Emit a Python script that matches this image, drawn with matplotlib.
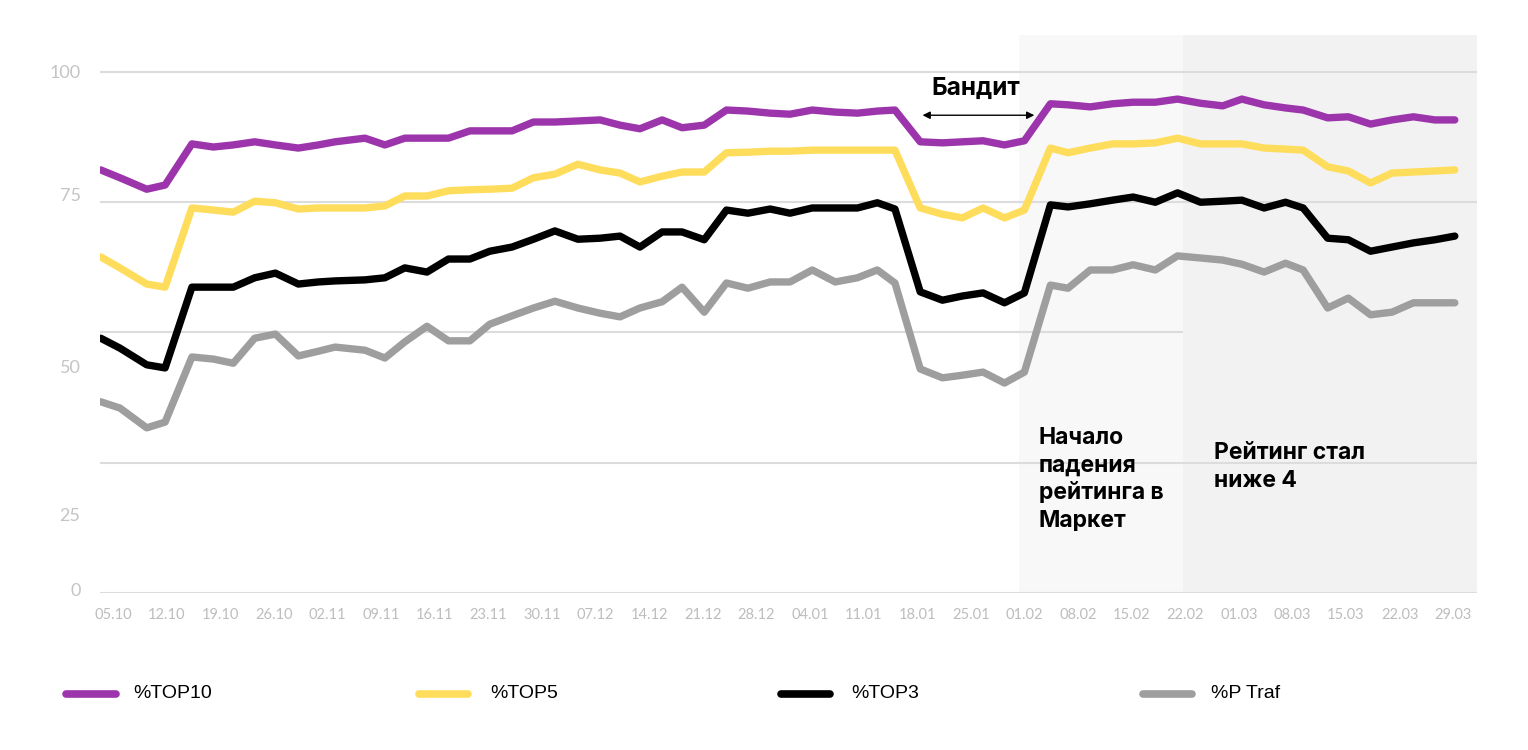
import matplotlib.pyplot as plt
from matplotlib.lines import Line2D
from matplotlib import font_manager

# day offsets from 05.10 for each point
days = [-1.6, 0.9, 4.4, 6.8, 10.3, 13.1, 15.7, 18.5, 21.2, 24.2,
        26.8, 29.0, 32.9, 35.5, 38.1, 41.0, 43.8, 46.6, 49.2, 52.1,
        54.9, 57.7, 60.7, 63.6, 66.2, 68.8, 71.7, 74.3, 77.2, 80.1,
        82.9, 85.8, 88.4, 91.3, 94.3, 97.2, 99.8, 102.1, 105.4, 108.3,
        110.9, 113.6, 116.4, 119.0, 122.4, 124.7, 127.6, 130.5, 133.2, 136.1,
        139.0, 142.0, 144.9, 147.4, 150.3, 153.1, 155.4, 158.6, 161.3, 164.2,
        167.0, 169.8, 172.6, 175.2]

top10 = [81.2, 79.7, 77.5, 78.3, 86.2, 85.6, 86.0, 86.6, 86.0, 85.4,
         86.0, 86.6, 87.3, 86.0, 87.3, 87.3, 87.3, 88.7, 88.7, 88.7,
         90.4, 90.4, 90.6, 90.8, 89.8, 89.1, 90.8, 89.3, 89.8, 92.7,
         92.5, 92.1, 91.9, 92.7, 92.3, 92.1, 92.5, 92.7, 86.6, 86.4,
         86.6, 86.8, 86.0, 86.8, 93.9, 93.7, 93.3, 93.9, 94.2, 94.2,
         94.8, 94.0, 93.5, 94.8, 93.7, 93.1, 92.7, 91.2, 91.4, 90.0,
         90.8, 91.4, 90.8, 90.8]

top5 = [64.5, 62.4, 59.3, 58.7, 73.9, 73.5, 73.1, 75.2, 74.9, 73.7,
        73.9, 73.9, 73.9, 74.3, 76.2, 76.2, 77.2, 77.4, 77.5, 77.7,
        79.7, 80.4, 82.3, 81.2, 80.6, 78.9, 80.0, 80.8, 80.8, 84.5,
        84.6, 84.8, 84.8, 85.0, 85.0, 85.0, 85.0, 85.0, 73.9, 72.7,
        72.0, 73.9, 72.0, 73.5, 85.4, 84.5, 85.4, 86.2, 86.2, 86.4,
        87.3, 86.2, 86.2, 86.2, 85.4, 85.2, 85.0, 81.8, 81.0, 78.7,
        80.6, 80.8, 81.0, 81.2]

top3 = [48.9, 47.0, 43.8, 43.2, 58.7, 58.7, 58.7, 60.5, 61.4, 59.3,
        59.7, 59.9, 60.1, 60.5, 62.4, 61.6, 64.1, 64.1, 65.6, 66.4,
        67.9, 69.5, 67.9, 68.1, 68.5, 66.4, 69.3, 69.3, 67.8, 73.5,
        72.9, 73.7, 72.9, 73.9, 73.9, 73.9, 74.9, 73.7, 57.8, 56.2,
        57.0, 57.6, 55.7, 57.6, 74.5, 74.1, 74.7, 75.4, 76.0, 75.0,
        76.8, 75.0, 75.2, 75.4, 73.9, 75.0, 73.9, 68.1, 67.8, 65.6,
        66.4, 67.2, 67.8, 68.5]

ptraf = [36.7, 35.5, 31.7, 32.8, 45.3, 44.9, 44.1, 48.9, 49.7, 45.5,
         46.4, 47.2, 46.6, 45.1, 48.2, 51.2, 48.4, 48.4, 51.6, 53.2,
         54.7, 56.0, 54.7, 53.7, 53.0, 54.7, 55.9, 58.7, 53.9, 59.5,
         58.5, 59.7, 59.7, 62.0, 59.7, 60.5, 62.0, 59.5, 43.0, 41.3,
         41.8, 42.4, 40.3, 42.4, 59.1, 58.5, 62.0, 62.0, 63.0, 62.0,
         64.7, 64.3, 63.9, 63.1, 61.6, 63.3, 62.0, 54.7, 56.6, 53.4,
         53.9, 55.7, 55.7, 55.7]

week_labels = ['05.10', '12.10', '19.10', '26.10', '02.11', '09.11', '16.11',
               '23.11', '30.11', '07.12', '14.12', '21.12', '28.12', '04.01',
               '11.01', '18.01', '25.01', '01.02', '08.02', '15.02', '22.02',
               '01.03', '08.03', '15.03', '22.03', '29.03']
week_days = [7 * i for i in range(len(week_labels))]

# the y labels sit off their gridlines in the original
ytick_pos = [100, 76.4, 43.4, 15.0, 0.6]
ytick_labels = ['100', '75', '50', '25', '0']

series = [('%TOP10', top10, '#9c35ab'),
          ('%TOP5', top5, '#ffdd5c'),
          ('%TOP3', top3, '#000000'),
          ('%P Traf', ptraf, '#9e9e9e')]

names = {f.name for f in font_manager.fontManager.ttflist}
if 'Liberation Sans Narrow' in names:
    leg_font, leg_size = ['Liberation Sans Narrow', 'DejaVu Sans'], 17
else:
    leg_font, leg_size = ['Liberation Sans', 'DejaVu Sans'], 14
txt_font = ['Inter', 'DejaVu Sans']

fig = plt.figure(figsize=(15.28, 7.5), dpi=100)
ax = fig.add_axes([100 / 1528, 157 / 750, 1377 / 1528, 558 / 750])
x0, x1 = -1.7, 178.1
ax.set_xlim(x0, x1)
ax.set_ylim(0, 107.1)

ax.axvspan(118.3, 139.7, color='#f8f8f8', zorder=0, lw=0)
ax.axvspan(139.7, x1, color='#f2f2f2', zorder=0, lw=0)

grid_c = '#dcdcdc'
ax.hlines([0, 25, 75, 100], x0, x1, color=grid_c, lw=1.5, zorder=1)
ax.hlines(50, x0, 139.7, color=grid_c, lw=1.5, zorder=1)

for name, vals, col in series:
    ax.plot(days, vals, color=col, lw=5.3, solid_capstyle='round',
            solid_joinstyle='round', zorder=3)

for s in ax.spines.values():
    s.set_visible(False)
ax.set_xticks(week_days)
ax.set_xticklabels(week_labels, family='Lato', fontsize=10.5, color='#bdbdbd')
ax.set_yticks(ytick_pos)
ax.set_yticklabels(ytick_labels, family='Lato', fontsize=13, color='#c4c4c4')
ax.tick_params(axis='x', length=0, pad=11)
ax.tick_params(axis='y', length=0, pad=14)

ax.annotate('', xy=(105.7, 91.7), xytext=(120.3, 91.7),
            arrowprops=dict(arrowstyle='<|-|>', color='black', lw=1,
                            mutation_scale=11, shrinkA=0, shrinkB=0), zorder=4)
ax.text(112.6, 96.9, 'Бандит', ha='center', va='center', fontsize=17.5,
        fontweight='bold', family=txt_font, zorder=4)
ax.text(120.9, 31.8, 'Начало\nпадения\nрейтинга в\nМаркет', ha='left',
        va='top', fontsize=16.5, fontweight='bold', family=txt_font,
        linespacing=1.32, zorder=4)
ax.text(143.7, 28.9, 'Рейтинг стал\nниже 4', ha='left', va='top',
        fontsize=16.5, fontweight='bold', family=txt_font,
        linespacing=1.32, zorder=4)

# legend along the bottom
leg_y = (750 - 694) / 750
leg_lines = [(66, 116, 133), (419, 468, 490), (781, 830, 851), (1143, 1192, 1211)]
for (name, vals, col), (a, b, t) in zip(series, leg_lines):
    fig.add_artist(Line2D([a / 1528, b / 1528], [leg_y, leg_y],
                          transform=fig.transFigure, color=col, lw=5.5,
                          solid_capstyle='round'))
    fig.text(t / 1528, leg_y, name, ha='left', va='center',
             fontsize=leg_size, family=leg_font)

fig.savefig('out.png', dpi=100, facecolor='white')
